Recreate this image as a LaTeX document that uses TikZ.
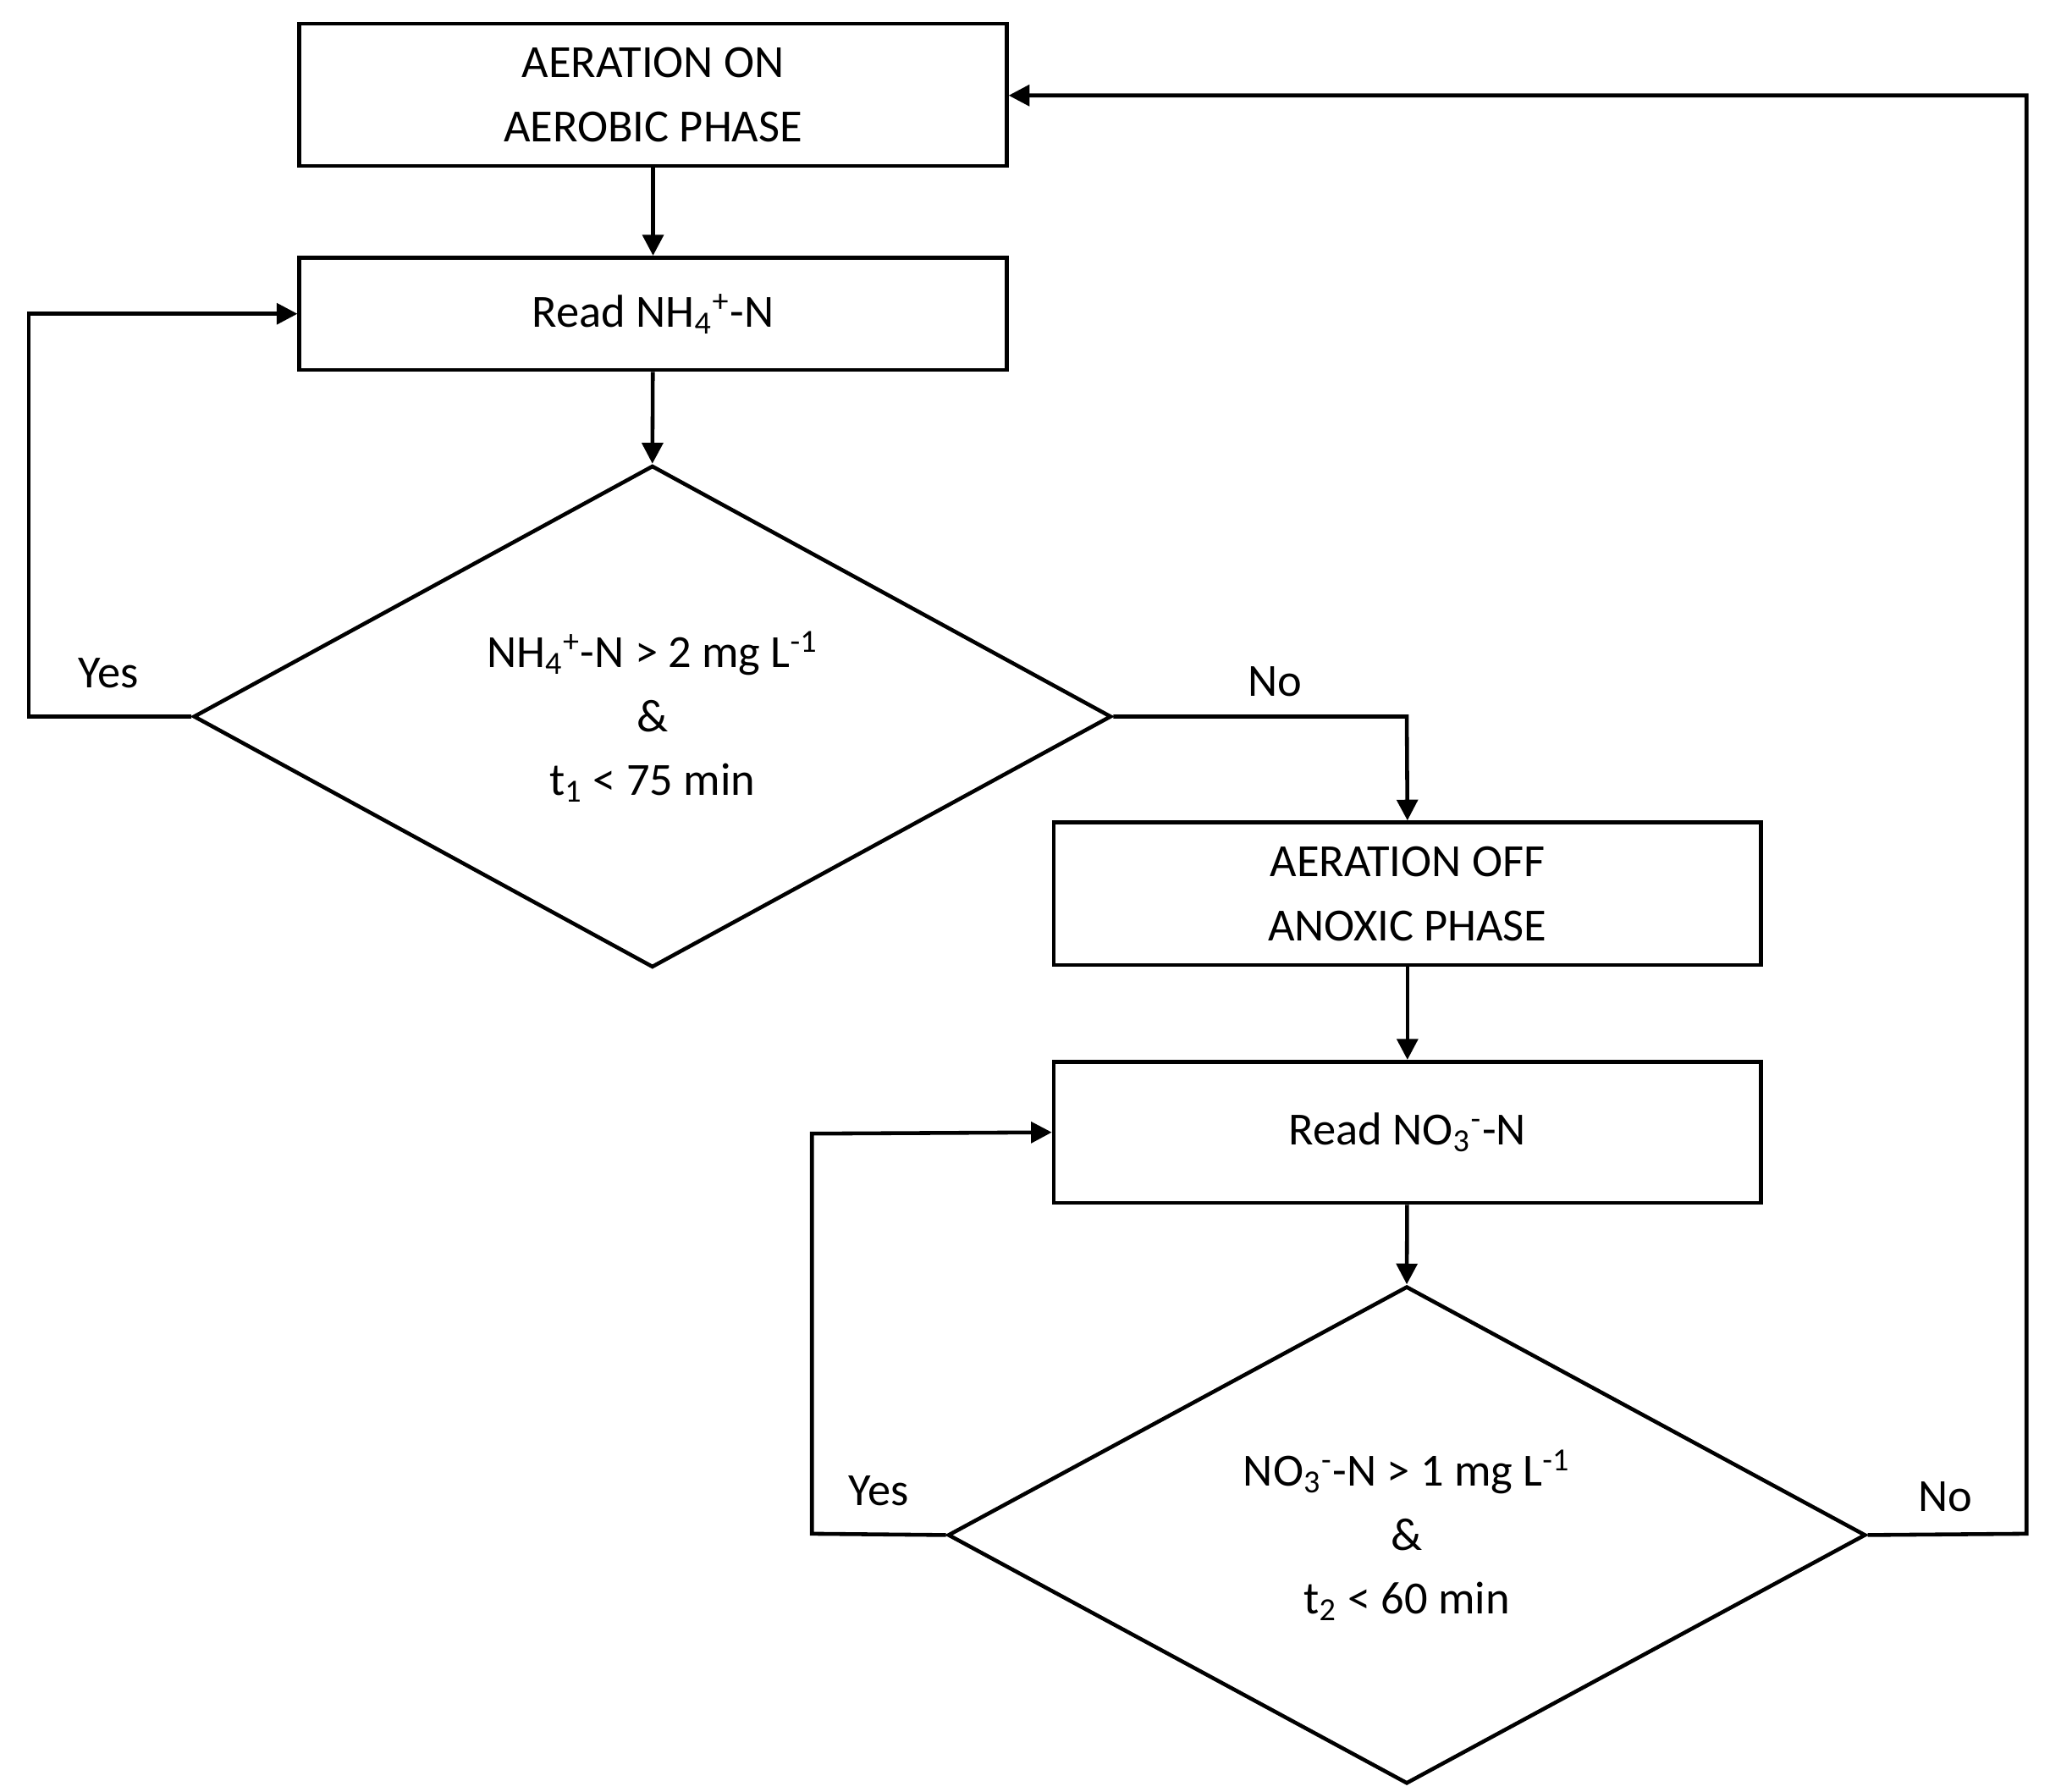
\documentclass[tikz,border=0pt]{standalone}
\usepackage{fontspec}
\setmainfont{Carlito}
\usetikzlibrary{shapes.geometric,arrows.meta}
\begin{document}
\begin{tikzpicture}[x=0.01545cm,y=-0.01545cm,
  every node/.style={font=\fontsize{15.5pt}{21.5pt}\selectfont},
  box/.style={draw,line width=1.3pt,rectangle,minimum width=541*0.01545cm,align=center,inner sep=0},
  dia/.style={draw,line width=1.3pt,diamond,minimum width=702*0.01545cm,minimum height=375*0.01545cm,inner sep=0,align=center},
  ln/.style={line width=1.3pt},
  arr/.style={line width=1.3pt,-{Triangle[length=7pt,width=7pt]}},
  lbl/.style={}]
\useasboundingbox (0,0) rectangle (1568,1370);
\node[box,minimum height=109*0.01545cm] (b1) at (499.5,72.5) {AERATION ON\\AEROBIC PHASE};
\node[box,minimum height=86*0.01545cm] (b2) at (499.5,240) {Read NH\textsubscript{4}\textsuperscript{+}-N};
\node[dia] (d1) at (499,548) {NH\textsubscript{4}\textsuperscript{+}-N > 2 mg L\textsuperscript{-1}\\\&\\t\textsubscript{1} < 75 min};
\node[box,minimum height=109*0.01545cm] (b3) at (1076.5,683.5) {AERATION OFF\\ANOXIC PHASE};
\node[box,minimum height=108*0.01545cm] (b4) at (1076.5,866) {Read NO\textsubscript{3}\textsuperscript{-}-N};
\node[dia,minimum height=356*0.01545cm] (d2) at (1076,1174) {NO\textsubscript{3}\textsuperscript{-}-N > 1 mg L\textsuperscript{-1}\\\&\\t\textsubscript{2} < 60 min};
\coordinate (y1) at (22,548); \coordinate (y1b) at (22,240);
\coordinate (n1) at (1076,548);
\coordinate (y2) at (621,1173); \coordinate (y2b) at (621,867);
\coordinate (n2) at (1550,1173); \coordinate (n2b) at (1550,73);
\draw[arr] (b1) -- (b2);
\draw[arr] (b2) -- (d1.north);
\draw[arr] (d1.west) -- (y1) -- (y1b) -- (b2.west);
\draw[arr] (d1.east) -- (n1) -- (b3.north);
\draw[arr] (b3) -- (b4);
\draw[arr] (b4) -- (d2.north);
\draw[arr] (d2.west) -- (y2) -- (y2b) -- (b4.west);
\draw[arr] (d2.east) -- (n2) -- (n2b) -- (b1.east |- n2b);
\node (l1) at (83,515) {Yes};
\node (l2) at (975,521) {No};
\node (l3) at (672,1140) {Yes};
\node (l4) at (1488,1145) {No};
\end{tikzpicture}
\end{document}
